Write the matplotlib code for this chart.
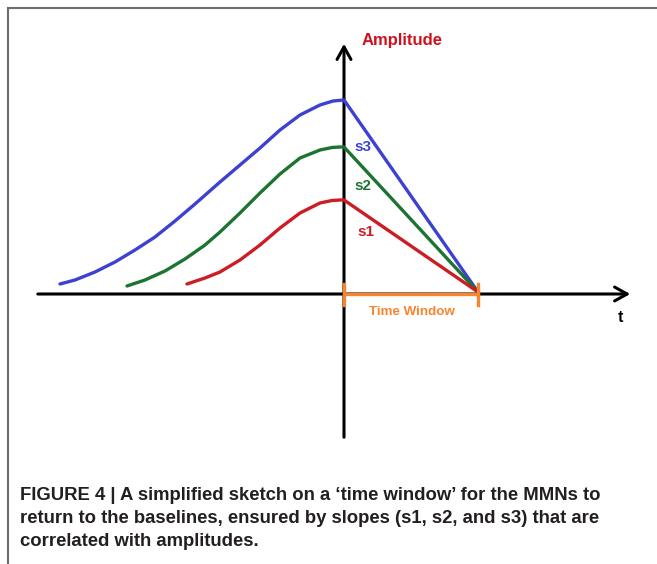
import matplotlib
matplotlib.use("Agg")
import matplotlib.pyplot as plt
from matplotlib.lines import Line2D

plt.rcParams['font.family'] = ['Liberation Sans', 'DejaVu Sans']

# Data (time offset from the peak, amplitude)
blue_t = [-284, -269, -249, -229, -209, -189, -169, -149, -124, -104, -84, -64, -44, -24, -11, 0, 134]
blue_a = [10, 14, 22, 32, 44, 57, 73, 90, 112, 129, 146, 164, 179, 189, 193, 194, 2]
green_t = [-217, -199, -179, -159, -139, -124, -104, -84, -64, -44, -24, -12, -4, 0, 134]
green_a = [8, 14, 23, 35, 49, 62, 81, 101, 120, 136, 144, 146.5, 147, 147, 2]
red_t = [-157, -139, -124, -104, -84, -64, -44, -24, -12, -4, 0, 134]
red_a = [10, 16, 22, 34, 49, 66, 81, 91, 93.5, 94, 94, 2]
window_start, window_end = 0, 134

series_labels = ["s1", "s2", "s3"]
caption_lines = [
    "FIGURE 4 | A simplified sketch on a \u2018time window\u2019 for the MMNs to",
    "return to the baselines, ensured by slopes (s1, s2, and s3) that are",
    "correlated with amplitudes.",
]

BLUE = "#3c41d2"
GREEN = "#1b7431"
RED = "#cc1d24"
ORANGE = "#f7852f"

fig = plt.figure(figsize=(6.57, 5.64), dpi=100)
ax = fig.add_axes([0, 0, 1, 1])
ax.set_xlim(-344, 313)
ax.set_ylim(-270, 294)
ax.axis("off")

# frame lines (top and left)
fig.add_artist(Line2D([8/657, 1], [1 - 8/564, 1 - 8/564], transform=fig.transFigure, color="#6d6d6d", lw=1.5))
fig.add_artist(Line2D([8/657, 8/657], [0, 1 - 8/564], transform=fig.transFigure, color="#6d6d6d", lw=1.5))

# axes with arrows
ax.annotate("", xy=(289, 0), xytext=(-309, 0),
            arrowprops=dict(arrowstyle="->,head_length=0.9,head_width=0.5", color="black", lw=2.2))
ax.annotate("", xy=(0, 253), xytext=(0, -146),
            arrowprops=dict(arrowstyle="->,head_length=0.9,head_width=0.5", color="black", lw=2.2))

# curves
for t, a, c in [(blue_t, blue_a, BLUE), (green_t, green_a, GREEN), (red_t, red_a, RED)]:
    ax.plot(t, a, color=c, lw=2.4, solid_capstyle="round", solid_joinstyle="round", zorder=3)

# time window
ax.plot([window_start, window_end], [0, 0], color=ORANGE, lw=2.4, zorder=4)
ax.plot([window_start, window_start], [10, -11], color=ORANGE, lw=2.4, zorder=4)
ax.plot([window_end, window_end], [10, -11], color=ORANGE, lw=2.4, zorder=4)
ax.text((window_start + window_end) / 2 + 0.5, -18, "Time Window", color=ORANGE, fontsize=9.6,
        fontweight="bold", ha="center", va="center")

# labels
ax.text(18, 254, "Amplitude", color="#d0111b", fontsize=12, fontweight="bold", ha="left", va="center")
ax.text(276, -24, "t", color="black", fontsize=11.5, fontweight="bold", ha="center", va="center")
ax.text(22, 62, series_labels[0], color=RED, fontsize=11, fontweight="bold", ha="center", va="center")
ax.text(19, 108, series_labels[1], color=GREEN, fontsize=11, fontweight="bold", ha="center", va="center")
ax.text(19, 147, series_labels[2], color=BLUE, fontsize=11, fontweight="bold", ha="center", va="center")

# caption
for i, line in enumerate(caption_lines):
    fig.text(20/657, 1 - (496 + 22.5 * i) / 564, line, color="#231f20", fontsize=13.3,
             fontweight="bold", ha="left", va="center")

fig.savefig("out.png", dpi=100)
